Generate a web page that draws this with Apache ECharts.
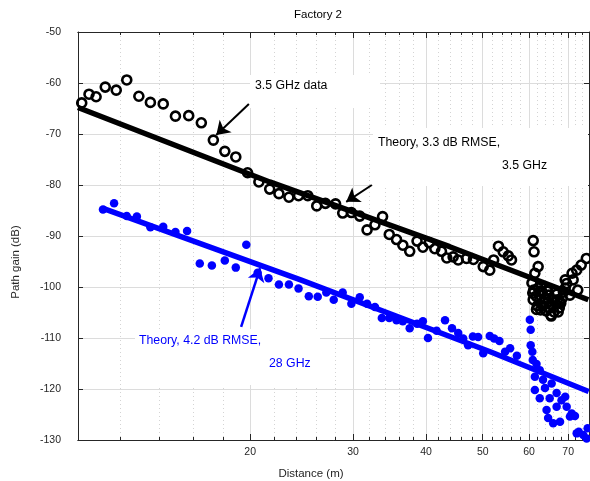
<!DOCTYPE html>
<html>
<head>
<meta charset="utf-8">
<script src="https://cdn.jsdelivr.net/npm/echarts@6/dist/echarts.min.js"></script>
<style>html,body{margin:0;padding:0;background:#fff}#c{width:590px;height:481px}</style>
</head>
<body>
<div id="c"></div>
<script>
// ---- data (distance in m, path gain in dB) ----
const distBlack = [10.1,10.3,10.6,10.9,11.3,11.8,12.3,12.9,13.5,14.2,14.9,15.7,16.5,17.3,18.1,18.9,19.8,20.7,21.6,22.4,23.3,24.2,25.1,26.0,26.9,28.0,28.8,29.8,30.8,31.7,32.7,33.7,34.6,35.6,36.5,37.5,38.6,39.5,40.5,41.4,42.5,43.4,44.5,45.4,46.9,48.2,50.1,51.4,52.2,53.2,54.2,55.3,56.0,61.0,61.2,62.2,61.4,60.7,61.1,61.0,61.7,62.2,62.6,62.0,63.2,63.9,63.4,64.7,64.2,64.9,65.5,66.2,65.5,67.1,67.6,66.9,68.4,69.2,69.6,69.2,71.1,71.4,72.4,73.7,75.2,72.7,70.5,61.8,65.4,60.9,63.0,64.5,66.5,68.0,62.6,63.6,65.1,66.0,64.5,67.3,62.8,67.8,68.7];
const gainBlack = [-63.1,-63.9,-62.2,-62.7,-60.8,-61.4,-59.4,-62.6,-63.8,-64.1,-66.5,-66.4,-67.8,-71.2,-73.4,-74.5,-77.6,-79.4,-80.8,-81.7,-82.4,-82.1,-82.1,-84.1,-83.6,-83.7,-85.5,-85.4,-86.1,-88.8,-87.8,-86.2,-89.7,-90.7,-91.8,-93.0,-91.0,-92.2,-91.3,-92.5,-93.0,-94.3,-94.1,-94.7,-94.4,-94.6,-96.0,-96.7,-94.7,-92.0,-93.1,-93.9,-94.7,-90.9,-93.1,-96.0,-97.3,-99.2,-100.6,-102.5,-101.8,-100.2,-102.5,-103.7,-101.0,-102.2,-103.7,-102.9,-104.7,-101.6,-103.5,-104.9,-105.7,-102.5,-104.1,-101.4,-102.2,-100.2,-99.3,-98.6,-97.3,-98.6,-96.7,-95.7,-94.4,-100.6,-101.6,-104.4,-105.5,-101.2,-99.8,-100.8,-103.0,-103.2,-100.8,-103.1,-104.1,-102.5,-100.6,-104.9,-104.5,-102.9,-101.0];

const distBlue = [11.2,11.7,12.3,12.8,13.5,14.2,14.9,15.6,16.4,17.2,18.1,18.9,19.7,20.6,21.5,22.4,23.3,24.2,25.2,26.1,27.0,27.8,28.8,29.8,30.8,31.7,32.7,33.6,34.6,35.6,36.5,37.5,38.6,39.5,40.3,41.7,43.1,44.3,45.4,46.3,47.2,48.1,49.1,50.1,51.4,52.3,53.4,54.6,55.7,57.2,60.2,60.4,60.4,60.8,60.9,61.8,62.6,61.4,63.4,61.4,63.9,65.6,62.6,65.1,66.9,68.2,69.2,64.3,66.9,69.6,71.0,71.9,64.7,67.8,70.5,73.0,74.3,75.6,75.3,66.0,72.4];
const gainBlue = [-84.8,-83.6,-86.1,-86.2,-88.3,-88.2,-89.2,-89.0,-95.4,-95.8,-94.8,-96.2,-91.7,-97.2,-98.3,-99.5,-99.5,-100.3,-101.8,-101.9,-101.1,-102.5,-101.1,-103.3,-102.0,-103.3,-103.9,-106.1,-106.1,-106.5,-106.7,-108.1,-107.2,-106.7,-110.0,-108.6,-106.5,-108.1,-109.0,-110.1,-111.4,-109.7,-109.8,-113.0,-109.6,-110.1,-110.6,-112.7,-112.0,-113.5,-106.4,-108.4,-111.4,-112.7,-114.3,-115.1,-116.3,-117.6,-118.2,-120.2,-119.8,-118.9,-121.8,-121.8,-120.8,-122.2,-121.5,-124.1,-123.5,-123.5,-124.8,-125.3,-125.7,-126.4,-125.4,-128.4,-129.0,-127.7,-129.7,-126.7,-128.7];

const theoryBlackDist = [10.15, 21.6, 43.9, 75.8];
const theoryBlackGain = [-64.8, -79.4, -92.1, -102.5];
const theoryBlueDist = [11.2, 24.4, 51.5, 75.9];
const theoryBlueGain = [-84.6, -98.6, -112.7, -120.5];

const xMajorTicks = [20, 30, 40, 50, 60, 70];
const xMinorTicks = [12,14,16,18,22,24,26,28,32,34,36,38,42,44,46,48,52,54,56,58,62,64,66,68,72,74];
const xRange = [10.15, 76];
const yRange = [-130, -50];

// arrows [fromDist, fromGain, toDist, toGain]
const arrowBlack1 = [19.9, -64.1, 17.5, -70.2];
const arrowBlack2 = [32.3, -80.0, 29.2, -83.3];
const arrowBlue = [19.3, -107.8, 20.8, -96.3];

// ---- build ----
const L = Math.log10;
const pts = (d, g) => d.map((v, i) => [L(v), g[i]]);
const axisColor = '#262626';
const font = '"Liberation Sans", Arial, Helvetica, sans-serif';

const chart = echarts.init(document.getElementById('c'), null, {renderer: 'canvas'});

function xAx(pos, ticks, len, opts) {
  return Object.assign({
    type: 'value', position: pos, min: L(xRange[0]), max: L(xRange[1]),
    axisLine: {show: true, onZero: false, lineStyle: {color: axisColor, width: 1}},
    axisTick: {show: true, inside: true, length: len, customValues: ticks.map(L), lineStyle: {color: axisColor, width: 1}},
    axisLabel: {show: false},
    splitLine: {show: false}
  }, opts || {});
}

function arrow(a) {
  return [{coord: [L(a[0]), a[1]], symbol: 'none'}, {coord: [L(a[2]), a[3]], symbol: 'arrow', symbolSize: 13}];
}

const option = {
  animation: false,
  backgroundColor: '#fff',
  grid: {left: 78, right: 1, top: 32, bottom: 41, containLabel: false},
  xAxis: [
    xAx('bottom', xMajorTicks, 6, {
      axisLabel: {show: true, customValues: xMajorTicks.map(L), margin: 7, color: axisColor, fontSize: 10.5, fontFamily: font,
        formatter: v => String(Math.round(Math.pow(10, v)))},
      splitLine: {show: true, lineStyle: {color: '#dcdcdc', width: 1, type: 'solid'}}
    }),
    xAx('bottom', xMinorTicks, 3, {
      splitLine: {show: true, lineStyle: {color: '#d4d4d4', width: 1, type: [1, 3]}}
    }),
    xAx('top', xMajorTicks, 6),
    xAx('top', xMinorTicks, 3)
  ],
  yAxis: [
    {type: 'value', position: 'left', min: yRange[0], max: yRange[1], interval: 10,
      axisLine: {show: true, onZero: false, lineStyle: {color: axisColor}},
      axisTick: {show: true, inside: true, length: 5, lineStyle: {color: axisColor}},
      axisLabel: {show: true, margin: 17, color: axisColor, fontSize: 10.5, fontFamily: font},
      splitLine: {show: true, lineStyle: {color: '#dcdcdc', width: 1}}},
    {type: 'value', position: 'right', min: yRange[0], max: yRange[1], interval: 10,
      axisLine: {show: true, onZero: false, lineStyle: {color: axisColor}},
      axisTick: {show: true, inside: true, length: 5, lineStyle: {color: axisColor}},
      axisLabel: {show: false}, splitLine: {show: false}}
  ],
  series: [
    {type: 'scatter', name: '3.5 GHz data', data: pts(distBlack, gainBlack), symbol: 'circle', symbolSize: 9,
      itemStyle: {color: 'rgba(255,255,255,0)', borderColor: '#000', borderWidth: 2.6, opacity: 1}, z: 3, silent: true},
    {type: 'scatter', name: '28 GHz data', data: pts(distBlue, gainBlue), symbol: 'circle', symbolSize: 8.5,
      itemStyle: {color: '#0000ff', opacity: 1}, z: 3, silent: true},
    {type: 'line', name: 'Theory 3.5', data: pts(theoryBlackDist, theoryBlackGain), showSymbol: false, symbol: 'none',
      lineStyle: {color: '#000', width: 5.5}, z: 4, silent: true,
      markLine: {silent: true, symbol: ['none', 'arrow'], symbolSize: 13, label: {show: false},
        lineStyle: {color: '#000', width: 2, type: 'solid'},
        itemStyle: {color: '#000'},
        data: [arrow(arrowBlack1), arrow(arrowBlack2)]}},
    {type: 'line', name: 'Theory 28', data: pts(theoryBlueDist, theoryBlueGain), showSymbol: false, symbol: 'none',
      lineStyle: {color: '#0000ff', width: 5.5}, z: 4, silent: true,
      markLine: {silent: true, symbol: ['none', 'arrow'], symbolSize: 14, label: {show: false},
        lineStyle: {color: '#0000ff', width: 2.5, type: 'solid'},
        itemStyle: {color: '#0000ff'},
        data: [arrow(arrowBlue)]}}
  ],
  graphic: [
    {type: 'rect', z: 1, silent: true, shape: {x: 250, y: 75, width: 130, height: 33}, style: {fill: '#fff'}},
    {type: 'rect', z: 1, silent: true, shape: {x: 373, y: 128, width: 215, height: 58}, style: {fill: '#fff'}},
    {type: 'rect', z: 1, silent: true, shape: {x: 135, y: 329, width: 185, height: 56}, style: {fill: '#fff'}},
    {type: 'text', z: 10, silent: true, x: 318, y: 15, style: {text: 'Factory 2', font: '11.5px ' + font, fill: '#000', textAlign: 'center', textVerticalAlign: 'middle'}},
    {type: 'text', z: 10, silent: true, x: 255, y: 86, style: {text: '3.5 GHz data', font: '12.3px ' + font, fill: '#000', textAlign: 'left', textVerticalAlign: 'middle'}},
    {type: 'text', z: 10, silent: true, x: 378, y: 143, style: {text: 'Theory, 3.3 dB RMSE,', font: '12.3px ' + font, fill: '#000', textAlign: 'left', textVerticalAlign: 'middle'}},
    {type: 'text', z: 10, silent: true, x: 502, y: 166, style: {text: '3.5 GHz', font: '12.3px ' + font, fill: '#000', textAlign: 'left', textVerticalAlign: 'middle'}},
    {type: 'text', z: 10, silent: true, x: 139, y: 341, style: {text: 'Theory, 4.2 dB RMSE,', font: '12.3px ' + font, fill: '#0000ff', textAlign: 'left', textVerticalAlign: 'middle'}},
    {type: 'text', z: 10, silent: true, x: 269, y: 364, style: {text: '28 GHz', font: '12.3px ' + font, fill: '#0000ff', textAlign: 'left', textVerticalAlign: 'middle'}},
    {type: 'text', z: 10, silent: true, x: 311, y: 474, style: {text: 'Distance (m)', font: '11.5px ' + font, fill: axisColor, textAlign: 'center', textVerticalAlign: 'middle'}},
    {type: 'text', z: 10, silent: true, x: 16, y: 262, rotation: Math.PI / 2, style: {text: 'Path gain (dB)', font: '11.5px ' + font, fill: axisColor, textAlign: 'center', textVerticalAlign: 'middle'}}
  ]
};
chart.setOption(option);
</script>
</body>
</html>
